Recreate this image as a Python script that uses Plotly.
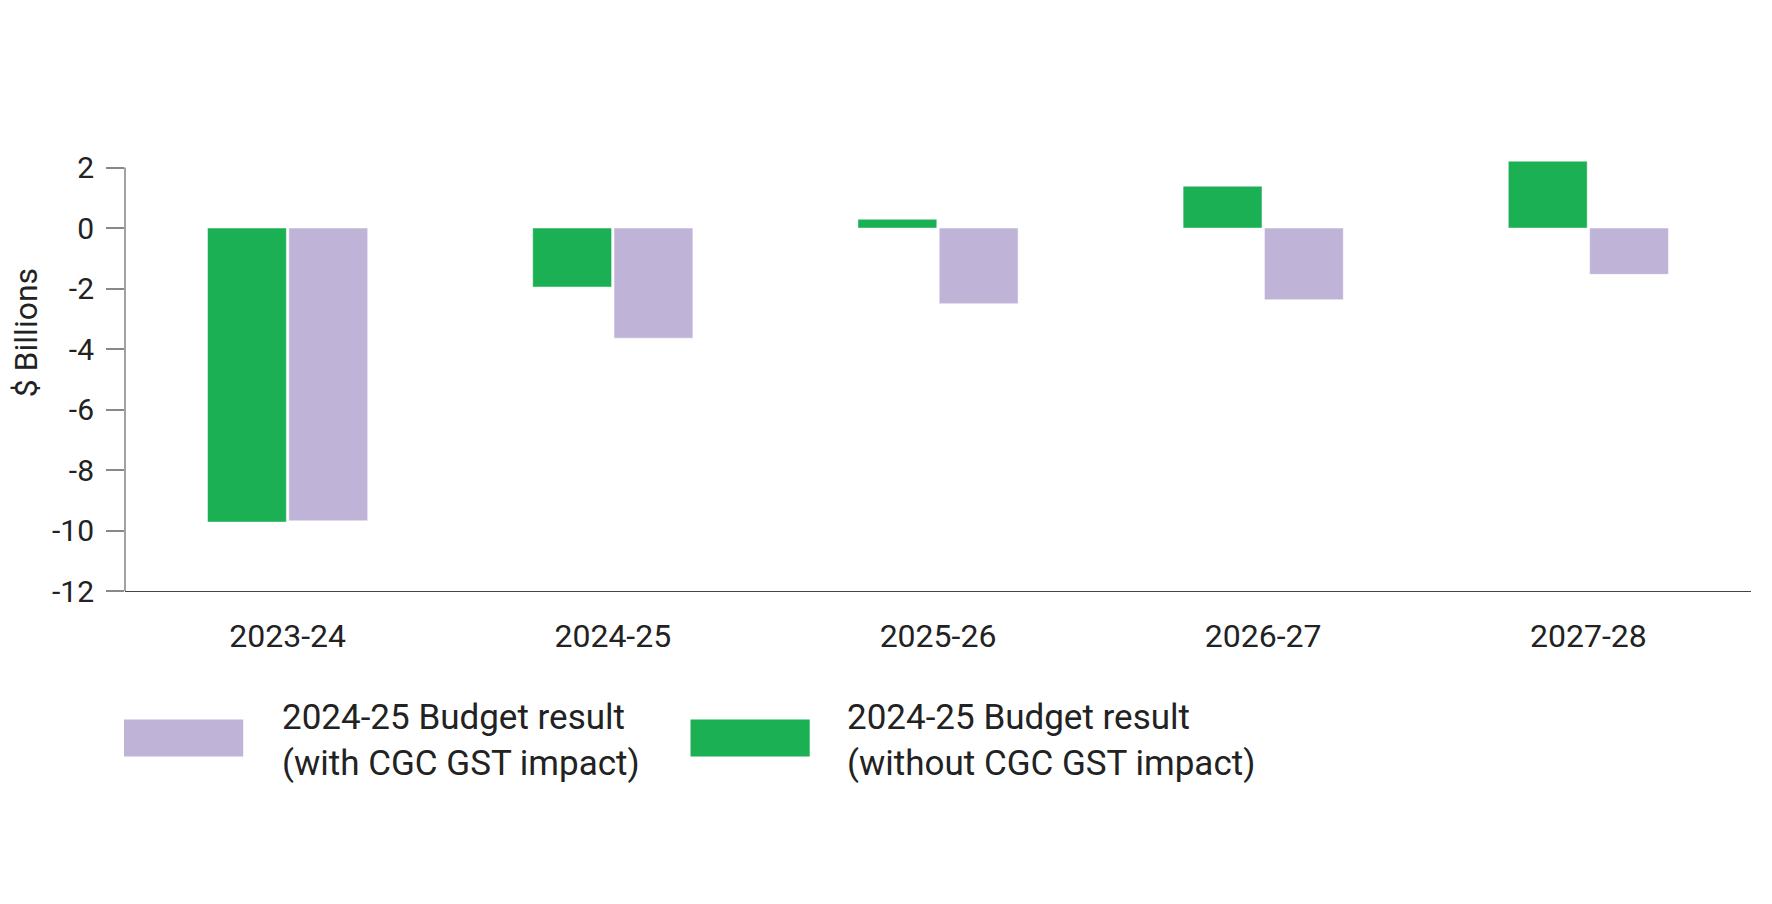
import plotly.graph_objects as go

years = ["2023-24", "2024-25", "2025-26", "2026-27", "2027-28"]
without_cgc = [-9.72, -1.95, 0.29, 1.38, 2.21]
with_cgc = [-9.68, -3.64, -2.50, -2.37, -1.53]
y_ticks = [2, 0, -2, -4, -6, -8, -10, -12]
y_tick_text = ["2", "0", "-2", "-4", "-6", "-8", "-10", "-12"]

series_names = [
    "2024-25 Budget result<br>(with CGC GST impact)",
    "2024-25 Budget result<br>(without CGC GST impact)",
]

GREEN = "#1bb054"
PURPLE = "#bfb3d7"
FONT = "Roboto, Liberation Sans, sans-serif"
TEXT = "#222222"

fig = go.Figure()
fig.add_trace(go.Bar(
    x=years, y=without_cgc, name=series_names[1],
    marker=dict(color=GREEN, line=dict(color="rgba(255,255,255,0.45)", width=1)),
))
fig.add_trace(go.Bar(
    x=years, y=with_cgc, name=series_names[0],
    marker=dict(color=PURPLE, line=dict(color="rgba(255,255,255,0.5)", width=1)),
))

# y axis line stops at the top tick, the last green bar pokes above it
fig.add_shape(type="line", xref="paper", yref="y", x0=0, x1=0, y0=-12, y1=2,
              line=dict(color="#444444", width=1))

# axis title sits above the plot's middle in the original, so place it by hand
fig.add_annotation(xref="paper", yref="paper", x=-0.0612, y=0.599,
                   xanchor="center", yanchor="middle", textangle=-90,
                   text="$ Billions", showarrow=False,
                   font=dict(family=FONT, size=32, color=TEXT))

# hand-drawn legend, the swatches in the original are much bigger than plotly's
legend_items = [(PURPLE, series_names[0], -0.0006, 0.0727, 0.0955),
                (GREEN, series_names[1], 0.3478, 0.4211, 0.4431)]
for color, label, x0, x1, tx in legend_items:
    fig.add_shape(type="rect", xref="paper", yref="paper",
                  x0=x0, x1=x1, y0=-0.384, y1=-0.298,
                  fillcolor=color, line=dict(width=0))
    fig.add_annotation(xref="paper", yref="paper", x=tx, y=-0.346,
                       xanchor="left", yanchor="middle", align="left",
                       text=label, showarrow=False,
                       font=dict(family=FONT, size=35, color=TEXT))

# page body adds ~8px offset, margins compensate for it
fig.update_layout(
    width=1772, height=904,
    margin=dict(l=117, r=29, t=152, b=321),
    paper_bgcolor="white", plot_bgcolor="white",
    barmode="group", bargap=0.5, bargroupgap=0.03,
    showlegend=False,
    font=dict(family=FONT, size=30, color=TEXT),
)
fig.update_xaxes(
    showline=True, linecolor="#444444", linewidth=1,
    ticks="", showgrid=False, ticklabelstandoff=17,
    tickfont=dict(size=32, color=TEXT),
    automargin=False,
)
fig.update_yaxes(
    range=[-12, 2.25], tickvals=y_ticks, ticktext=y_tick_text,
    showline=False,
    ticks="outside", ticklen=18, tickcolor="#888888", tickwidth=2,
    showgrid=False, zeroline=False,
    ticklabelstandoff=6,
    tickfont=dict(size=30, color=TEXT),
    automargin=False,
)

fig.write_html("out.html")
